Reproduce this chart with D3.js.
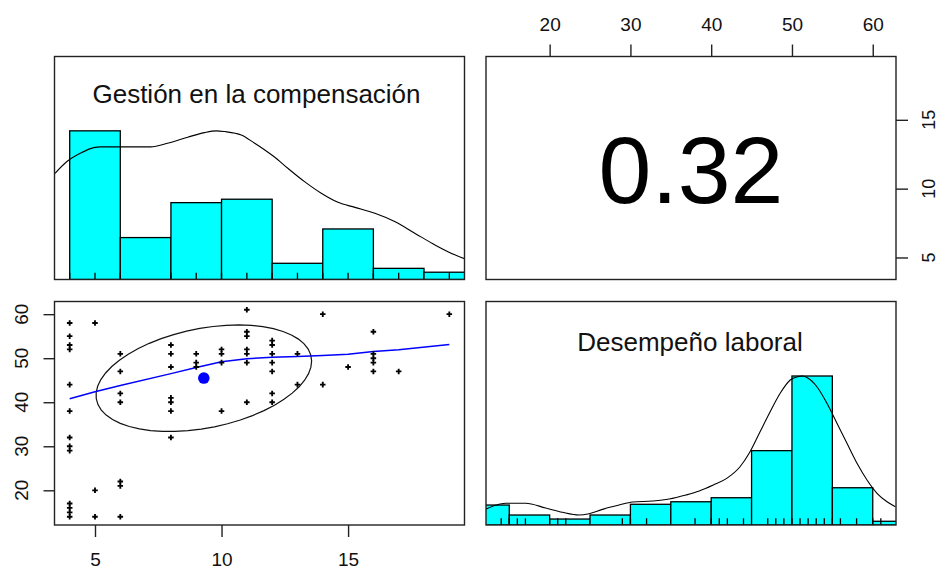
<!DOCTYPE html>
<html>
<head>
<meta charset="utf-8">
<script src="https://cdn.jsdelivr.net/npm/d3@7"></script>
<style>
  html, body { margin: 0; padding: 0; background: #fff; }
  svg { display: block; font-family: "Liberation Sans", Arial, sans-serif; }
</style>
</head>
<body>
<svg id="chart" width="939" height="570"></svg>
<script>
// ---------------- DATA ----------------
const varNames = ["Gestión en la compensación", "Desempeño laboral"];
const corrLabel = "0.32";

// scatter data (x = Gestión, y = Desempeño)
const gestion = [
  4,4,4,4,4,4,4,4,4,4,4,4,4,
  5,5,5,
  6,6,6,6,6,6,6,
  8,8,8,8,8,8,8,
  9,9,9,
  10,10,10,10,
  11,11,11,11,11,11,11,
  12,12,12,12,12,12,12,
  13,13,
  14,14,
  15,
  16,16,16,16,16,
  17,
  19
];
const desempeno = [
  58,55,53,52,44,38,32,30,29,17,16,15,14,
  58,20,14,
  51,47,42,40,22,21,14,
  53,51,48,41,40,38,32,
  51,49,48,
  52,51,49,38,
  61,56,55,52,51,49,40,
  54,53,51,49,47,42,40,
  51,44,
  60,44,
  48,
  56,51,50,49,47,
  47,
  60
];

// histogram (normalized heights, max = 1)
const gestionBreaks = [4, 6, 8, 10, 12, 14, 16, 18, 20];
const gestionHeights = [1.0, 0.282, 0.517, 0.540, 0.109, 0.340, 0.075, 0.049];
const desempenoBreaks = [10, 15, 20, 25, 30, 35, 40, 45, 50, 55, 60, 65];
const desempenoHeights = [0.134, 0.067, 0.040, 0.067, 0.139, 0.156, 0.183, 0.499, 1.0, 0.250, 0.025];

// density curves (normalized, max = 1)
const gestionDensX = [3.42, 3.88, 4.42, 4.95, 5.21, 7.20, 7.86, 8.66, 9.32, 9.79, 10.12, 10.78, 11.31, 11.71, 12.08, 12.62, 13.28, 13.94, 14.60, 15.27, 16.06, 16.86, 17.65, 18.45, 19.24, 19.67];
const gestionDensY = [0.714, 0.792, 0.849, 0.887, 0.892, 0.892, 0.916, 0.957, 0.988, 1.0, 0.995, 0.972, 0.916, 0.871, 0.826, 0.748, 0.658, 0.580, 0.519, 0.485, 0.445, 0.388, 0.310, 0.231, 0.164, 0.135];
const desempenoDensX = [12.06, 13.30, 14.54, 17.02, 19.50, 21.58, 23.64, 24.88, 26.54, 28.60, 30.26, 32.74, 34.80, 36.87, 38.52, 40.26, 41.92, 43.57, 44.81, 46.05, 47.30, 48.54, 49.78, 50.81, 51.30, 51.85, 53.09, 54.33, 55.57, 56.81, 58.05, 59.29, 60.53, 61.77, 62.80];
const desempenoDensY = [0.105, 0.132, 0.146, 0.146, 0.114, 0.085, 0.067, 0.076, 0.105, 0.134, 0.154, 0.161, 0.174, 0.201, 0.228, 0.268, 0.313, 0.391, 0.492, 0.626, 0.760, 0.884, 0.973, 0.997, 1.0, 0.99, 0.928, 0.817, 0.683, 0.548, 0.414, 0.302, 0.213, 0.156, 0.123];

// lowess smooth
const lowessX = [4, 5, 6, 8, 9, 10, 11, 12, 13, 14, 15, 16, 17, 19];
const lowessY = [40.8, 42.4, 43.8, 46.5, 47.9, 49.2, 49.9, 50.2, 50.4, 50.6, 50.9, 51.5, 51.9, 53.1];

// correlation ellipse stats: [meanX, meanY, sdX, sdY, r]
const ellipseStats = [9.3, 45.45, 4.26, 12.1, 0.32];

// tick labels
const gestionTicks = [5, 10, 15];
const desempenoTicks = [20, 30, 40, 50, 60];

// ---------------- LAYOUT ----------------
const svg = d3.select("#chart");
const colX = [[54.5, 464.5], [486, 896]];
const rowY = [[56.5, 279.5], [301.5, 525]];

const xG = d3.scaleLinear().domain([3.4, 19.6]).range(colX[0]);
const yG = d3.scaleLinear().domain([3.4, 19.6]).range([rowY[0][1], rowY[0][0]]);
const xD = d3.scaleLinear().domain([12.12, 62.88]).range(colX[1]);
const yD = d3.scaleLinear().domain([12.12, 62.88]).range([rowY[1][1], rowY[1][0]]);
const hTop = d3.scaleLinear().domain([0, 1.5]).range([rowY[0][1], rowY[0][0]]);
const hBot = d3.scaleLinear().domain([0, 1.5]).range([rowY[1][1], rowY[1][0]]);

const FONT_AX = 19;
const defs = svg.append("defs");
function clip(id, c, r) {
  defs.append("clipPath").attr("id", id).append("rect")
    .attr("x", colX[c][0]).attr("y", rowY[r][0])
    .attr("width", colX[c][1] - colX[c][0]).attr("height", rowY[r][1] - rowY[r][0]);
}
clip("c00", 0, 0); clip("c11", 1, 1); clip("c10", 0, 1);

// ---------- Top-left: histogram Gestión ----------
const g00 = svg.append("g").attr("clip-path", "url(#c00)");
g00.selectAll("rect.bar").data(gestionHeights).join("rect")
  .attr("x", (d, i) => xG(gestionBreaks[i]))
  .attr("width", (d, i) => xG(gestionBreaks[i + 1]) - xG(gestionBreaks[i]))
  .attr("y", d => hTop(d))
  .attr("height", d => hTop(0) - hTop(d))
  .attr("fill", "#00ffff").attr("stroke", "#000").attr("stroke-width", 1.3);
g00.append("path")
  .datum(d3.zip(gestionDensX, gestionDensY))
  .attr("d", d3.line().x(d => xG(d[0])).y(d => hTop(d[1])).curve(d3.curveMonotoneX))
  .attr("fill", "none").attr("stroke", "#000").attr("stroke-width", 1.1);
g00.selectAll("line.rug").data(Array.from(new Set(gestion))).join("line")
  .attr("x1", d => xG(d)).attr("x2", d => xG(d))
  .attr("y1", hTop(0)).attr("y2", hTop(0.045))
  .attr("stroke", "#000").attr("stroke-width", 1.3);
svg.append("text").attr("x", (colX[0][0] + colX[0][1]) / 2 - 3).attr("y", 103)
  .attr("text-anchor", "middle").attr("font-size", 26).attr("fill", "#111")
  .text(varNames[0]);

// ---------- Bottom-right: histogram Desempeño ----------
const g11 = svg.append("g").attr("clip-path", "url(#c11)");
g11.selectAll("rect.bar").data(desempenoHeights).join("rect")
  .attr("x", (d, i) => xD(desempenoBreaks[i]))
  .attr("width", (d, i) => xD(desempenoBreaks[i + 1]) - xD(desempenoBreaks[i]))
  .attr("y", d => hBot(d))
  .attr("height", d => hBot(0) - hBot(d))
  .attr("fill", "#00ffff").attr("stroke", "#000").attr("stroke-width", 1.3);
g11.append("path")
  .datum(d3.zip(desempenoDensX, desempenoDensY))
  .attr("d", d3.line().x(d => xD(d[0])).y(d => hBot(d[1])).curve(d3.curveMonotoneX))
  .attr("fill", "none").attr("stroke", "#000").attr("stroke-width", 1.1);
g11.selectAll("line.rug").data(Array.from(new Set(desempeno))).join("line")
  .attr("x1", d => xD(d)).attr("x2", d => xD(d))
  .attr("y1", hBot(0)).attr("y2", hBot(0.045))
  .attr("stroke", "#000").attr("stroke-width", 1.3);
svg.append("text").attr("x", (colX[1][0] + colX[1][1]) / 2 - 1).attr("y", 350.5)
  .attr("text-anchor", "middle").attr("font-size", 26).attr("fill", "#111")
  .text(varNames[1]);

// ---------- Top-right: correlation ----------
svg.append("text").attr("x", (colX[1][0] + colX[1][1]) / 2).attr("y", 203)
  .attr("text-anchor", "middle").attr("font-size", 95).attr("fill", "#000")
  .text(corrLabel);

// ---------- Bottom-left: scatter ----------
const g10 = svg.append("g").attr("clip-path", "url(#c10)");
const [mx, my, sx, sy, r] = ellipseStats;
const seg = 51;
const th = Math.sign(r) / Math.sqrt(2);
const ell = d3.range(seg + 1).map(k => {
  const a = k * 2 * Math.PI / seg;
  const c = Math.cos(a), s = Math.sin(a);
  const ex = c * Math.sqrt(1 + r) * th - s * Math.sqrt(1 - r) * th;
  const ey = c * Math.sqrt(1 + r) * th + s * Math.sqrt(1 - r) * th;
  return [mx + ex * sx, my + ey * sy];
});
g10.append("path").datum(ell)
  .attr("d", d3.line().x(d => xG(d[0])).y(d => yD(d[1])))
  .attr("fill", "none").attr("stroke", "#111").attr("stroke-width", 1.2);
g10.append("path").datum(d3.zip(lowessX, lowessY))
  .attr("d", d3.line().x(d => xG(d[0])).y(d => yD(d[1])))
  .attr("fill", "none").attr("stroke", "#0000ff").attr("stroke-width", 1.5);
const cross = d3.symbol().type(d3.symbolCross).size(17);
g10.selectAll("path.pt").data(d3.zip(gestion, desempeno)).join("path")
  .attr("transform", d => `translate(${xG(d[0])},${yD(d[1])})`)
  .attr("d", cross).attr("fill", "#000");
g10.append("circle").attr("cx", xG(mx)).attr("cy", yD(45.5)).attr("r", 5.8).attr("fill", "#0000ff");

// ---------- Panel boxes ----------
for (let c = 0; c < 2; c++) for (let rr = 0; rr < 2; rr++) {
  svg.append("rect").attr("x", colX[c][0]).attr("y", rowY[rr][0])
    .attr("width", colX[c][1] - colX[c][0]).attr("height", rowY[rr][1] - rowY[rr][0])
    .attr("fill", "none").attr("stroke", "#222").attr("stroke-width", 1.4);
}

// ---------- Axes ----------
function styleAxis(g) {
  g.select(".domain").remove();
  g.selectAll(".tick line").attr("stroke", "#222").attr("stroke-width", 1.4);
  g.selectAll(".tick text").attr("font-size", FONT_AX).attr("fill", "#111")
    .attr("font-family", "Liberation Sans, Arial, sans-serif");
}
// bottom (Gestión)
svg.append("g").attr("transform", `translate(0,${rowY[1][1]})`)
  .call(d3.axisBottom(xG).tickValues(gestionTicks).tickSize(12).tickPadding(16))
  .call(styleAxis);
// top (Desempeño)
svg.append("g").attr("transform", `translate(0,${rowY[0][0]})`)
  .call(d3.axisTop(xD).tickValues(desempenoTicks).tickSize(12).tickPadding(14))
  .call(styleAxis);
// left (Desempeño), rotated labels
svg.append("g").attr("transform", `translate(${colX[0][0]},0)`)
  .call(d3.axisLeft(yD).tickValues(desempenoTicks).tickSize(11).tickFormat(""))
  .call(styleAxis);
svg.selectAll("text.ylab").data(desempenoTicks).join("text")
  .attr("transform", d => `translate(21,${yD(d)}) rotate(-90)`)
  .attr("text-anchor", "middle").attr("dy", "0.35em")
  .attr("font-size", FONT_AX).attr("fill", "#111").text(d => d);
// right (Gestión), rotated labels
svg.append("g").attr("transform", `translate(${colX[1][1]},0)`)
  .call(d3.axisRight(yG).tickValues(gestionTicks).tickSize(12).tickFormat(""))
  .call(styleAxis);
svg.selectAll("text.rlab").data(gestionTicks).join("text")
  .attr("transform", d => `translate(929,${yG(d)}) rotate(-90)`)
  .attr("text-anchor", "middle").attr("dy", "0.35em")
  .attr("font-size", 18).attr("fill", "#111").text(d => d);
</script>
</body>
</html>
